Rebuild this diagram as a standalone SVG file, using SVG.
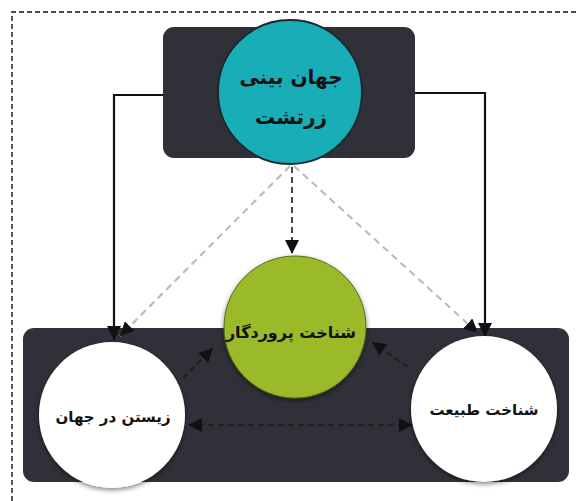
<svg xmlns="http://www.w3.org/2000/svg" width="576" height="501" viewBox="0 0 576 501">
<style>
.box{fill:#303138}
.lbl{font-family:"DejaVu Sans",sans-serif;font-weight:bold;fill:#111;text-anchor:middle;dominant-baseline:central}
.solid{fill:none;stroke:#111;stroke-width:2.2}
.grey{fill:none;stroke:#b8b8b8;stroke-width:2;stroke-dasharray:7 5}
.dash{fill:none;stroke:#1a1a1a;stroke-width:1.6;stroke-dasharray:6 4}
.frame{fill:none;stroke:#111;stroke-width:1.4;stroke-dasharray:5 3}
</style>
<defs>
<marker id="ahb" viewBox="0 0 10 10" refX="10" refY="5" markerWidth="14" markerHeight="14" markerUnits="userSpaceOnUse" orient="auto-start-reverse">
<path d="M0,0 L10,5 L0,10 z" fill="#111"/>
</marker>
<filter id="sh" x="-20%" y="-20%" width="140%" height="140%">
<feGaussianBlur in="SourceAlpha" stdDeviation="2.5"/>
<feOffset dx="0" dy="2"/>
<feComponentTransfer><feFuncA type="linear" slope="0.5"/></feComponentTransfer>
<feMerge><feMergeNode/><feMergeNode in="SourceGraphic"/></feMerge>
</filter>
</defs>
<rect width="576" height="501" fill="#fff"/>
<path class="frame" d="M12,501 L12,12 L576,12"/>
<g id="top-box"><rect class="box" x="163" y="27" width="252" height="131" rx="11"/></g>
<g id="bottom-box"><rect class="box" x="23" y="328" width="546" height="154" rx="11"/></g>
<g id="connectors">
<path class="solid" d="M163,95 L114,95 L114,340" marker-end="url(#ahb)"/>
<path class="solid" d="M415,93 L485,93 L485,337" marker-end="url(#ahb)"/>
<path class="grey" d="M290,166 L120,336" marker-end="url(#ahb)"/>
<path class="grey" d="M294,166 L478,333" marker-end="url(#ahb)"/>
<path class="dash" stroke="#333" d="M292,167 L292,254" marker-end="url(#ahb)"/>
<path class="dash" d="M183,378 L213,348" marker-end="url(#ahb)"/>
<path class="dash" d="M408,367 L372,342" marker-end="url(#ahb)"/>
<path class="dash" d="M188,425 L413,425" marker-start="url(#ahb)" marker-end="url(#ahb)"/>
</g>
<g id="n-worldview">
<circle cx="290" cy="92" r="72" fill="#19adb8" stroke="#1c2a30" stroke-width="2"/>
<text class="lbl" x="291" y="77" font-size="20">جهان بینی</text>
<text class="lbl" x="291" y="117" font-size="20">زرتشت</text>
</g>
<g id="n-god">
<circle cx="295" cy="327" r="71" fill="#9aba2c" stroke="#5a6a1a" stroke-width="1" filter="url(#sh)"/>
<text class="lbl" x="291" y="332" font-size="16">شناخت پروردگار</text>
</g>
<g id="n-world">
<circle cx="112" cy="415" r="73" fill="#fff" filter="url(#sh)"/>
<text class="lbl" x="113" y="417" font-size="15">زیستن در جهان</text>
</g>
<g id="n-nature">
<circle cx="484" cy="409" r="73" fill="#fff" filter="url(#sh)"/>
<text class="lbl" x="484" y="410" font-size="15">شناخت طبیعت</text>
</g>
</svg>
